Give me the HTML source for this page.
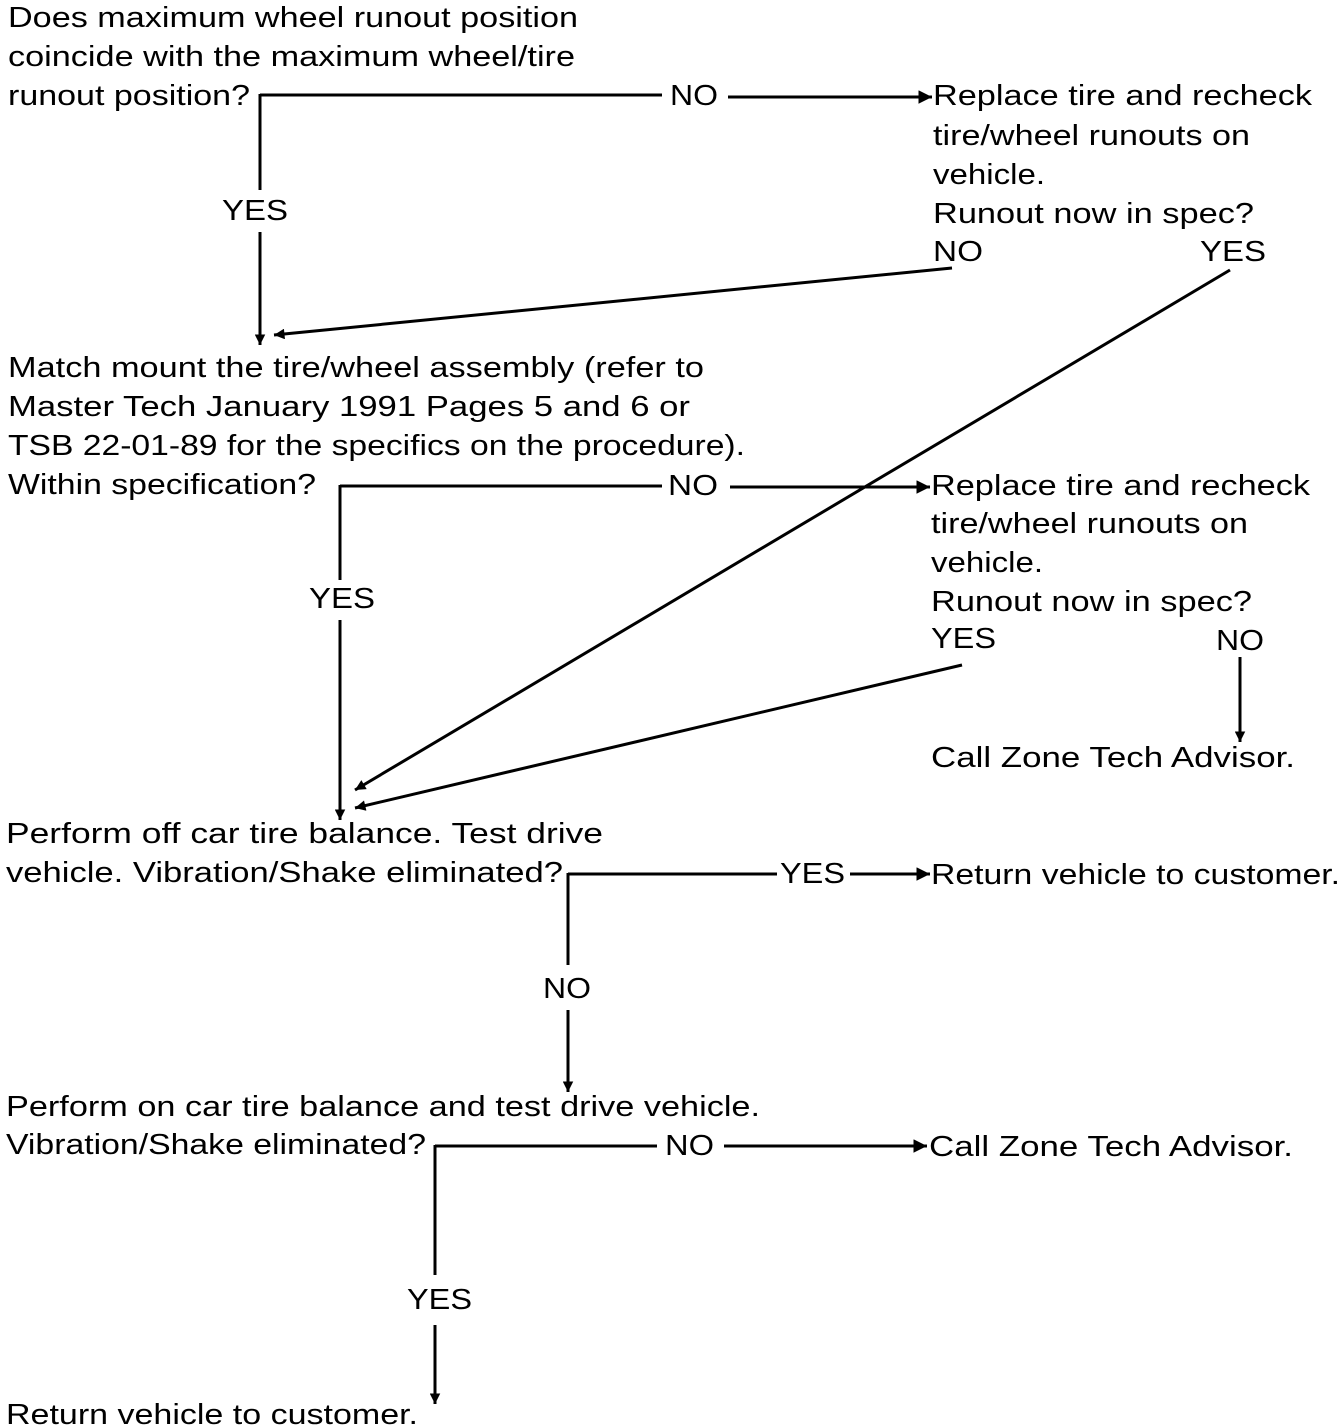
<!DOCTYPE html>
<html><head><meta charset="utf-8"><style>
html,body{margin:0;padding:0;background:#fff}
svg{display:block}
text{font-family:"Liberation Sans",Arial,sans-serif;font-size:29px;fill:#000}
line{stroke:#000;stroke-width:3}
</style></head><body>
<svg width="1344" height="1428" viewBox="0 0 1344 1428" xmlns="http://www.w3.org/2000/svg">
<defs>
<marker id="a" viewBox="0 0 10 10" refX="10" refY="5" markerWidth="6" markerHeight="3.5" markerUnits="strokeWidth" orient="auto"><path d="M0,0 L10,5 L0,10 z" fill="#000"/></marker>
<marker id="b" viewBox="0 0 10 10" refX="10" refY="5" markerWidth="5" markerHeight="4.5" markerUnits="strokeWidth" orient="auto"><path d="M0,0 L10,5 L0,10 z" fill="#000"/></marker>
</defs>
<g lengthAdjust="spacingAndGlyphs">
<text x="8" y="27" textLength="570" lengthAdjust="spacingAndGlyphs">Does maximum wheel runout position</text>
<text x="8" y="66" textLength="567" lengthAdjust="spacingAndGlyphs">coincide with the maximum wheel/tire</text>
<text x="8" y="105" textLength="242" lengthAdjust="spacingAndGlyphs">runout position?</text>
<text x="670" y="105" textLength="48" lengthAdjust="spacingAndGlyphs">NO</text>
<text x="933" y="105" textLength="379" lengthAdjust="spacingAndGlyphs">Replace tire and recheck</text>
<text x="933" y="145" textLength="317" lengthAdjust="spacingAndGlyphs">tire/wheel runouts on</text>
<text x="933" y="184" textLength="112" lengthAdjust="spacingAndGlyphs">vehicle.</text>
<text x="933" y="223" textLength="321" lengthAdjust="spacingAndGlyphs">Runout now in spec?</text>
<text x="933" y="261" textLength="50" lengthAdjust="spacingAndGlyphs">NO</text>
<text x="1200" y="261" textLength="66" lengthAdjust="spacingAndGlyphs">YES</text>
<text x="222" y="220" textLength="66" lengthAdjust="spacingAndGlyphs">YES</text>

<text x="8" y="377" textLength="696" lengthAdjust="spacingAndGlyphs">Match mount the tire/wheel assembly (refer to</text>
<text x="8" y="416" textLength="682" lengthAdjust="spacingAndGlyphs">Master Tech January 1991 Pages 5 and 6 or</text>
<text x="8" y="455" textLength="737" lengthAdjust="spacingAndGlyphs">TSB 22-01-89 for the specifics on the procedure).</text>
<text x="8" y="494" textLength="308" lengthAdjust="spacingAndGlyphs">Within specification?</text>
<text x="668" y="495" textLength="50" lengthAdjust="spacingAndGlyphs">NO</text>
<text x="931" y="495" textLength="379" lengthAdjust="spacingAndGlyphs">Replace tire and recheck</text>
<text x="931" y="533" textLength="317" lengthAdjust="spacingAndGlyphs">tire/wheel runouts on</text>
<text x="931" y="572" textLength="112" lengthAdjust="spacingAndGlyphs">vehicle.</text>
<text x="931" y="611" textLength="321" lengthAdjust="spacingAndGlyphs">Runout now in spec?</text>
<text x="931" y="648" textLength="65" lengthAdjust="spacingAndGlyphs">YES</text>
<text x="1216" y="650" textLength="48" lengthAdjust="spacingAndGlyphs">NO</text>
<text x="931" y="767" textLength="364" lengthAdjust="spacingAndGlyphs">Call Zone Tech Advisor.</text>
<text x="309" y="608" textLength="66" lengthAdjust="spacingAndGlyphs">YES</text>

<text x="6" y="843" textLength="597" lengthAdjust="spacingAndGlyphs">Perform off car tire balance.  Test drive</text>
<text x="6" y="882" textLength="557" lengthAdjust="spacingAndGlyphs">vehicle.  Vibration/Shake eliminated?</text>
<text x="780" y="883" textLength="65" lengthAdjust="spacingAndGlyphs">YES</text>
<text x="931" y="884" textLength="409" lengthAdjust="spacingAndGlyphs">Return vehicle to customer.</text>
<text x="543" y="998" textLength="48" lengthAdjust="spacingAndGlyphs">NO</text>

<text x="6" y="1116" textLength="754" lengthAdjust="spacingAndGlyphs">Perform on car tire balance and test drive vehicle.</text>
<text x="6" y="1154" textLength="420" lengthAdjust="spacingAndGlyphs">Vibration/Shake eliminated?</text>
<text x="665" y="1155" textLength="49" lengthAdjust="spacingAndGlyphs">NO</text>
<text x="929" y="1156" textLength="364" lengthAdjust="spacingAndGlyphs">Call Zone Tech Advisor.</text>
<text x="407" y="1309" textLength="65" lengthAdjust="spacingAndGlyphs">YES</text>
<text x="6" y="1424" textLength="412" lengthAdjust="spacingAndGlyphs">Return vehicle to customer.</text>
</g>

<!-- connectors block 1 -->
<line x1="260" y1="95" x2="662" y2="95"/>
<line x1="728" y1="97" x2="932" y2="97" marker-end="url(#b)"/>
<line x1="260" y1="94" x2="260" y2="190"/>
<line x1="260" y1="232" x2="260" y2="345" marker-end="url(#a)"/>
<line x1="952" y1="268" x2="274" y2="335" marker-end="url(#a)"/>
<line x1="1230" y1="270" x2="355" y2="790" marker-end="url(#a)"/>

<!-- block 2 -->
<line x1="340" y1="486" x2="662" y2="486"/>
<line x1="730" y1="487" x2="930" y2="487" marker-end="url(#b)"/>
<line x1="340" y1="485" x2="340" y2="580"/>
<line x1="340" y1="620" x2="340" y2="820" marker-end="url(#a)"/>
<line x1="962" y1="665" x2="355" y2="808" marker-end="url(#a)"/>
<line x1="1240" y1="657" x2="1240" y2="742" marker-end="url(#a)"/>

<!-- block 3 -->
<line x1="568" y1="874" x2="777" y2="874"/>
<line x1="850" y1="874" x2="930" y2="874" marker-end="url(#b)"/>
<line x1="568" y1="873" x2="568" y2="965"/>
<line x1="568" y1="1010" x2="568" y2="1092" marker-end="url(#a)"/>

<!-- block 4 -->
<line x1="435" y1="1146" x2="657" y2="1146"/>
<line x1="724" y1="1146" x2="927" y2="1146" marker-end="url(#b)"/>
<line x1="435" y1="1145" x2="435" y2="1275"/>
<line x1="435" y1="1325" x2="435" y2="1404" marker-end="url(#a)"/>
</svg>
</body></html>
